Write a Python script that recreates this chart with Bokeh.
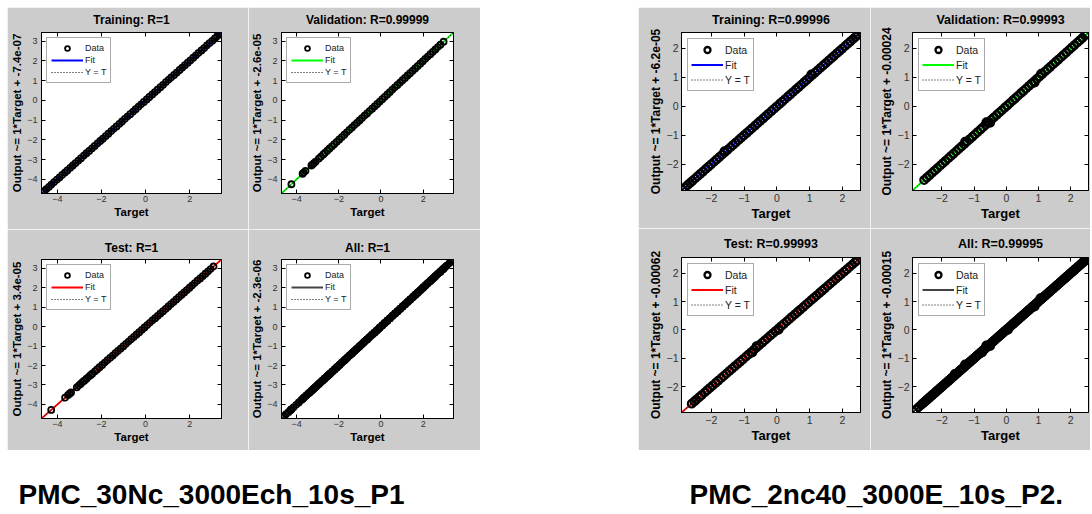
from bokeh.plotting import figure
from bokeh.layouts import row, column
from bokeh.models import (Range1d, LinearAxis, FixedTicker, Legend, LegendItem,
                          Spacer, Label)
from bokeh.embed import file_html
from bokeh.resources import INLINE

# ------------------------------------------------------------------ data
# Left figure set (PMC_30Nc_3000Ech_10s_P1): targets read along the band;
# outputs coincide with targets at picture resolution (R = 1).
left_train_t = [-4.68, -4.6, -4.5, -4.38, -4.27, -4.15, -4.02, -3.9, -3.78, -3.66,
                -3.55, -3.42, -3.3, -3.18, -3.05, -2.93, -2.8, -2.68, -2.56, -2.43,
                -2.31, -2.18, -2.06, -1.94, -1.81, -1.69, -1.56, -1.44, -1.32, -1.19,
                -1.07, -0.94, -0.82, -0.7, -0.57, -0.45, -0.32, -0.2, -0.08, 0.05,
                0.17, 0.3, 0.42, 0.54, 0.67, 0.79, 0.92, 1.04, 1.16, 1.29,
                1.41, 1.54, 1.66, 1.78, 1.91, 2.03, 2.16, 2.28, 2.4, 2.53,
                2.65, 2.78, 2.9, 3.02, 3.14, 3.25, 3.34, 3.4]
left_train_o = list(left_train_t)

left_val_t = [-4.25, -3.72, -3.66, -3.58, -3.3, -3.24, -3.18, -3.1, -2.95, -2.85,
              -2.74, -2.66, -2.55, -2.44, -2.33, -2.22, -2.1, -1.98, -1.86, -1.74,
              -1.62, -1.5, -1.38, -1.26, -1.14, -1.02, -0.9, -0.78, -0.66, -0.54,
              -0.42, -0.3, -0.18, -0.06, 0.06, 0.18, 0.3, 0.42, 0.54, 0.66,
              0.78, 0.9, 1.02, 1.14, 1.26, 1.38, 1.5, 1.62, 1.74, 1.86,
              1.98, 2.1, 2.22, 2.34, 2.46, 2.58, 2.7, 2.82, 2.97]
left_val_o = list(left_val_t)

left_test_t = [-4.28, -3.65, -3.52, -3.45, -3.38, -3.12, -3.03, -2.95, -2.86, -2.78,
               -2.68, -2.58, -2.5, -2.42, -2.3, -2.2, -2.09, -1.97, -1.85, -1.73,
               -1.61, -1.49, -1.37, -1.25, -1.13, -1.01, -0.89, -0.77, -0.65, -0.53,
               -0.41, -0.29, -0.17, -0.05, 0.07, 0.19, 0.31, 0.43, 0.55, 0.67,
               0.79, 0.91, 1.03, 1.15, 1.27, 1.39, 1.51, 1.63, 1.75, 1.87,
               1.99, 2.11, 2.23, 2.35, 2.47, 2.59, 2.71, 2.83, 2.95, 3.08]
left_test_o = list(left_test_t)

# Right figure set (PMC_2nc40_3000E_10s_P2.)
right_train_t = [-2.88, -2.8, -2.72, -2.65, -2.58, -2.5, -2.42, -2.34, -2.26, -2.17,
                 -2.09, -2.01, -1.92, -1.84, -1.76, -1.67, -1.59, -1.51, -1.42, -1.34,
                 -1.26, -1.17, -1.09, -1.01, -0.92, -0.84, -0.76, -0.67, -0.59, -0.51,
                 -0.42, -0.34, -0.26, -0.17, -0.09, -0.01, 0.08, 0.16, 0.24, 0.33,
                 0.41, 0.49, 0.58, 0.66, 0.74, 0.83, 0.91, 0.99, 1.08, 1.16,
                 1.24, 1.33, 1.41, 1.49, 1.58, 1.66, 1.74, 1.83, 1.91, 1.99,
                 2.08, 2.16, 2.24, 2.33, 2.4, 2.46, 1.05, -1.6]
right_train_o = [-2.88, -2.8, -2.72, -2.65, -2.58, -2.5, -2.42, -2.34, -2.26, -2.17,
                 -2.09, -2.01, -1.92, -1.84, -1.76, -1.67, -1.59, -1.51, -1.42, -1.34,
                 -1.26, -1.17, -1.09, -1.01, -0.92, -0.84, -0.76, -0.67, -0.59, -0.51,
                 -0.42, -0.34, -0.26, -0.17, -0.09, -0.01, 0.08, 0.16, 0.24, 0.33,
                 0.41, 0.49, 0.58, 0.66, 0.74, 0.83, 0.91, 0.99, 1.08, 1.16,
                 1.24, 1.33, 1.41, 1.49, 1.58, 1.66, 1.74, 1.83, 1.91, 1.99,
                 2.08, 2.16, 2.24, 2.33, 2.4, 2.46, 1.1, -1.55]

right_val_t = [-2.55, -2.47, -2.39, -2.3, -2.22, -2.14, -2.05, -1.97, -1.89, -1.8,
               -1.72, -1.64, -1.55, -1.47, -1.39, -1.3, -1.22, -1.14, -1.05, -0.97,
               -0.89, -0.8, -0.72, -0.64, -0.55, -0.47, -0.39, -0.3, -0.22, -0.14,
               -0.05, 0.03, 0.11, 0.2, 0.28, 0.36, 0.45, 0.53, 0.61, 0.7,
               0.78, 0.86, 0.95, 1.03, 1.11, 1.2, 1.28, 1.36, 1.45, 1.53,
               1.61, 1.7, 1.78, 1.86, 1.95, 2.03, 2.11, 2.2, 2.28, 2.36,
               2.45, 2.5, -1.28, -0.62, -0.5, 0.88, 1.08]
right_val_o = [-2.55, -2.47, -2.39, -2.3, -2.22, -2.14, -2.05, -1.97, -1.89, -1.8,
               -1.72, -1.64, -1.55, -1.47, -1.39, -1.3, -1.22, -1.14, -1.05, -0.97,
               -0.89, -0.8, -0.72, -0.64, -0.55, -0.47, -0.39, -0.3, -0.22, -0.14,
               -0.05, 0.03, 0.11, 0.2, 0.28, 0.36, 0.45, 0.53, 0.61, 0.7,
               0.78, 0.86, 0.95, 1.03, 1.11, 1.2, 1.28, 1.36, 1.45, 1.53,
               1.61, 1.7, 1.78, 1.86, 1.95, 2.03, 2.11, 2.2, 2.28, 2.36,
               2.45, 2.5, -1.22, -0.55, -0.57, 0.82, 1.13]

right_test_t = [-2.6, -2.52, -2.46, -2.38, -2.3, -2.2, -2.12, -2.04, -1.96, -1.87,
                -1.79, -1.7, -1.62, -1.54, -1.45, -1.37, -1.29, -1.2, -1.12, -1.04,
                -0.95, -0.87, -0.79, -0.7, -0.62, -0.54, -0.45, -0.37, -0.29, -0.2,
                -0.12, -0.04, 0.05, 0.13, 0.21, 0.3, 0.38, 0.46, 0.55, 0.63,
                0.71, 0.8, 0.88, 0.96, 1.05, 1.13, 1.21, 1.3, 1.38, 1.46,
                1.55, 1.63, 1.71, 1.8, 1.88, 1.96, 2.05, 2.13, 2.21, 2.3,
                2.38, 2.44, -0.75, -0.62, 0.05]
right_test_o = [-2.6, -2.52, -2.46, -2.38, -2.3, -2.2, -2.12, -2.04, -1.96, -1.87,
                -1.79, -1.7, -1.62, -1.54, -1.45, -1.37, -1.29, -1.2, -1.12, -1.04,
                -0.95, -0.87, -0.79, -0.7, -0.62, -0.54, -0.45, -0.37, -0.29, -0.2,
                -0.12, -0.04, 0.05, 0.13, 0.21, 0.3, 0.38, 0.46, 0.55, 0.63,
                0.71, 0.8, 0.88, 0.96, 1.05, 1.13, 1.21, 1.3, 1.38, 1.46,
                1.55, 1.63, 1.71, 1.8, 1.88, 1.96, 2.05, 2.13, 2.21, 2.3,
                2.38, 2.44, -0.8, -0.57, 0.0]

left_titles = ["Training: R=1", "Validation: R=0.99999", "Test: R=1", "All: R=1"]
left_slopes = [1, 1, 1, 1]
left_intercepts = [-7.4e-07, -2.6e-05, 3.4e-05, -2.3e-06]
left_intercept_text = ["-7.4e-07", "-2.6e-05", "3.4e-05", "-2.3e-06"]
left_limits = [-4.72, 3.44]
left_xticks = [-4, -2, 0, 2]
left_yticks = [-4, -3, -2, -1, 0, 1, 2, 3]

right_titles = ["Training: R=0.99996", "Validation: R=0.99993", "Test: R=0.99993", "All: R=0.99995"]
right_slopes = [1, 1, 1, 1]
right_intercepts = [-6.2e-05, -0.00024, -0.00062, -0.00015]
right_intercept_text = ["-6.2e-05", "-0.00024", "-0.00062", "-0.00015"]
right_limits = [-2.91, 2.55]
right_xticks = [-2, -1, 0, 1, 2]
right_yticks = [-2, -1, 0, 1, 2]

fit_colors = ["#0000ff", "#00ff00", "#ff0000", "#444444"]
captions = ["PMC_30Nc_3000Ech_10s_P1", "PMC_2nc40_3000E_10s_P2."]

# ------------------------------------------------------------------ style
GRAY = "#cccccc"
FONT = "Liberation Sans"

LEFT_STYLE = dict(title="12px", xlabel="11.5px", ylabel="11.5px", tick="9px",
                  xstand=2, ystand=4, leg_font="9px", leg_gw=32, leg_gh=12,
                  leg_pad=4, leg_margin=5, size=6, lw=1.8)
RIGHT_STYLE = dict(title="12.5px", xlabel="13px", ylabel="12px", tick="10.5px",
                   xstand=3, ystand=3, leg_font="10.5px", leg_gw=32, leg_gh=15,
                   leg_pad=3, leg_margin=6, size=7.5, lw=2.3)


def make_panel(title, ylabel, t, o, lim, xticks, yticks, color, slope, icpt,
               w, h, bl, br, bt, bb, tstand, valign, st):
    p = figure(width=w, height=h, x_range=Range1d(lim[0], lim[1]),
               y_range=Range1d(lim[0], lim[1]), output_backend="svg",
               toolbar_location=None, min_border_left=bl, min_border_right=br,
               min_border_top=bt, min_border_bottom=bb,
               background_fill_color="white", border_fill_color=GRAY,
               outline_line_color="black", outline_line_width=1)
    p.grid.visible = False
    p.title.text = title
    p.title.align = "center"
    p.title.vertical_align = valign
    p.title.text_font = FONT
    p.title.text_font_size = st["title"]
    p.title.text_font_style = "bold"
    p.title.text_color = "black"
    p.title.standoff = tstand

    xa, ya = p.xaxis[0], p.yaxis[0]
    xa.ticker = FixedTicker(ticks=xticks)
    ya.ticker = FixedTicker(ticks=yticks)
    xa.axis_label = "Target"
    ya.axis_label = ylabel
    xa.axis_label_text_font_size = st["xlabel"]
    ya.axis_label_text_font_size = st["ylabel"]
    xa.major_label_standoff = st["xstand"]
    ya.major_label_standoff = st["ystand"]
    for ax in (xa, ya):
        ax.axis_label_text_font = FONT
        ax.axis_label_text_font_style = "bold"
        ax.axis_label_text_color = "black"
        ax.axis_label_standoff = 1
        ax.major_label_text_font = FONT
        ax.major_label_text_font_size = st["tick"]
        ax.major_label_text_color = "#333333"
        ax.major_tick_in = 4
        ax.major_tick_out = 0
        ax.minor_tick_line_color = None
        ax.axis_line_color = "black"
        ax.major_tick_line_color = "black"
    for loc, tk in (("above", xticks), ("right", yticks)):
        ax = LinearAxis(ticker=FixedTicker(ticks=tk),
                        major_label_overrides={v: "" for v in tk},
                        major_label_text_font_size="0px", major_label_standoff=0,
                        major_tick_in=4, major_tick_out=0,
                        minor_tick_line_color=None, axis_line_color="black",
                        major_tick_line_color="black")
        p.add_layout(ax, loc)

    fx = [lim[0], lim[1]]
    fy = [slope * lim[0] + icpt, slope * lim[1] + icpt]
    fit = p.line(fx, fy, line_color=color, line_width=1.8)
    yt = p.line(fx, fx, line_color="black", line_width=1, line_dash="1 2")
    sc = p.scatter(t, o, marker="circle", size=st["size"], fill_color=None,
                   line_color="black", line_width=st["lw"])

    leg = Legend(items=[LegendItem(label="Data", renderers=[sc]),
                        LegendItem(label="Fit", renderers=[fit]),
                        LegendItem(label="Y = T", renderers=[yt])],
                 location="top_left", margin=st["leg_margin"],
                 padding=st["leg_pad"], spacing=0, glyph_width=st["leg_gw"],
                 glyph_height=st["leg_gh"], label_height=st["leg_gh"],
                 label_standoff=2, label_text_font=FONT,
                 label_text_font_size=st["leg_font"], label_text_color="#222222",
                 border_line_color="#555555", border_line_width=1,
                 background_fill_color="white", background_fill_alpha=1.0)
    p.add_layout(leg)
    return p


def ylab(txt):
    return "Output ~= 1*Target + " + txt


# left group: columns 241 / 232, rows 222 / 221
L = []
left_sets = [(left_train_t, left_train_o), (left_val_t, left_val_o),
             (left_test_t, left_test_o),
             (left_train_t + left_val_t + left_test_t,
              left_train_o + left_val_o + left_test_o)]
left_geo = [(241, 222, 34, 27, 25, 36, 8, "top"), (232, 222, 28, 27, 25, 36, 8, "top"),
            (241, 221, 34, 27, 30, 32, 10, "bottom"), (232, 221, 28, 27, 30, 32, 10, "bottom")]
for i in range(4):
    w, h, bl, br, bt, bb, ts, va = left_geo[i]
    L.append(make_panel(left_titles[i], ylab(left_intercept_text[i]),
                        left_sets[i][0], left_sets[i][1], left_limits,
                        left_xticks, left_yticks, fit_colors[i], left_slopes[i],
                        left_intercepts[i], w, h, bl, br, bt, bb, ts, va, LEFT_STYLE))

# right group: columns 232 / 220, rows 221 / 222
R = []
right_sets = [(right_train_t, right_train_o), (right_val_t, right_val_o),
              (right_test_t, right_test_o),
              (right_train_t + right_val_t + right_test_t,
               right_train_o + right_val_o + right_test_o)]
right_geo = [(232, 221, 43, 10, 25, 38, 8, "top"), (220, 221, 42, 2, 25, 38, 8, "top"),
             (232, 222, 43, 10, 29, 38, 13, "bottom"), (220, 222, 42, 2, 29, 38, 13, "bottom")]
for i in range(4):
    w, h, bl, br, bt, bb, ts, va = right_geo[i]
    R.append(make_panel(right_titles[i], ylab(right_intercept_text[i]),
                        right_sets[i][0], right_sets[i][1], right_limits,
                        right_xticks, right_yticks, fit_colors[i], right_slopes[i],
                        right_intercepts[i], w, h, bl, br, bt, bb, ts, va, RIGHT_STYLE))

left_grid = column(row(L[0], L[1]), row(L[2], L[3]))
right_grid = column(row(R[0], R[1]), row(R[2], R[3]))
top = row(Spacer(width=7, height=443), left_grid, Spacer(width=158, height=443),
          right_grid)

cap = figure(width=1090, height=62, x_range=Range1d(0, 1090), y_range=Range1d(0, 62),
             output_backend="svg", toolbar_location=None, x_axis_type=None,
             y_axis_type=None, min_border=0, outline_line_color=None,
             background_fill_color="white", border_fill_color="white")
cap.grid.visible = False
for txt, xpos in zip(captions, [18, 689]):
    cap.add_layout(Label(x=xpos, y=18, text=txt, text_font=FONT, text_font_size="28px",
                         text_font_style="bold", text_color="black",
                         text_baseline="middle", text_align="left"))

layout = column(Spacer(width=1090, height=7), top, cap)
open("out.html", "w").write(file_html(layout, INLINE))
